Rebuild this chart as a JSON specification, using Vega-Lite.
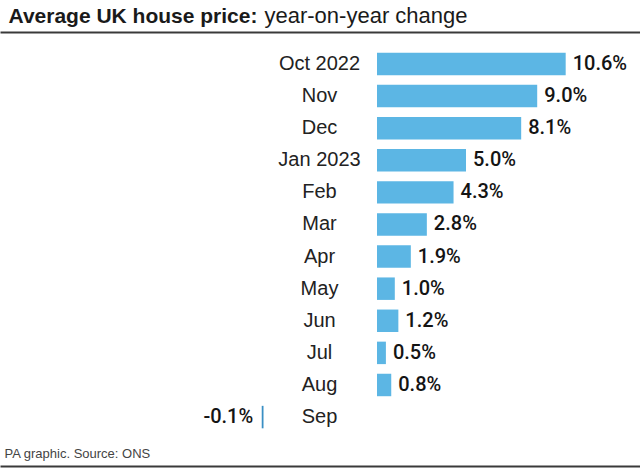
{
  "$schema": "https://vega.github.io/schema/vega-lite/v6.json",
  "width": 640,
  "height": 434,
  "autosize": {"type": "none"},
  "padding": {"top": 32, "bottom": 3, "left": 0, "right": 0},
  "background": "white",
  "config": {"view": {"stroke": null}, "font": "Liberation Sans"},
  "data": {
    "values": [
      {"month": "Oct 2022", "value": 10.6, "label": "10.6%"},
      {"month": "Nov", "value": 9.0, "label": "9.0%"},
      {"month": "Dec", "value": 8.1, "label": "8.1%"},
      {"month": "Jan 2023", "value": 5.0, "label": "5.0%"},
      {"month": "Feb", "value": 4.3, "label": "4.3%"},
      {"month": "Mar", "value": 2.8, "label": "2.8%"},
      {"month": "Apr", "value": 1.9, "label": "1.9%"},
      {"month": "May", "value": 1.0, "label": "1.0%"},
      {"month": "Jun", "value": 1.2, "label": "1.2%"},
      {"month": "Jul", "value": 0.5, "label": "0.5%"},
      {"month": "Aug", "value": 0.8, "label": "0.8%"},
      {"month": "Sep", "value": -0.1, "label": "-0.1%"}
    ]
  },
  "resolve": {"axis": {"x": "independent", "y": "independent"}},
  "layer": [
    {
      "transform": [{"filter": "datum.value >= 0"}],
      "mark": {"type": "bar", "color": "#5cb6e4"},
      "encoding": {
        "y": {
          "field": "month",
          "type": "nominal",
          "scale": {
            "domain": ["Oct 2022", "Nov", "Dec", "Jan 2023", "Feb", "Mar", "Apr", "May", "Jun", "Jul", "Aug", "Sep"],
            "paddingInner": 0.3,
            "paddingOuter": 0.91,
            "align": 0.355
          },
          "axis": {
            "title": "Average UK house price:",
            "labels": false,
            "ticks": false,
            "domain": false,
            "grid": false,
            "titleAngle": 0,
            "titleX": 8,
            "titleY": -10,
            "titleAlign": "left",
            "titleBaseline": "alphabetic",
            "titleFontSize": 21,
            "titleFontWeight": "bold",
            "titleColor": "#1a1a1a",
            "titleFont": "Liberation Sans",
            "titleLimit": 1000
          }
        },
        "x": {
          "field": "value",
          "type": "quantitative",
          "scale": {"domain": [-21.18, 14.775], "nice": false},
          "axis": {
            "orient": "top",
            "title": "year-on-year change",
            "labels": false,
            "ticks": false,
            "grid": false,
            "domain": true,
            "domainColor": "#3a3a3a",
            "domainWidth": 2,
            "titleX": 264,
            "titleY": -10,
            "titleAlign": "left",
            "titleBaseline": "alphabetic",
            "titleFontSize": 22,
            "titleFontWeight": "normal",
            "titleColor": "#1a1a1a",
            "titleFont": "Liberation Sans",
            "titleLimit": 1000
          }
        }
      }
    },
    {
      "transform": [{"filter": "datum.value < 0"}],
      "mark": {"type": "bar", "color": "#3a8fc4", "xOffset": -113.5},
      "encoding": {
        "y": {"field": "month", "type": "nominal", "axis": null},
        "x": {"field": "value", "type": "quantitative", "axis": null}
      }
    },
    {
      "mark": {"type": "text", "align": "center", "baseline": "middle", "dx": -57.5, "fontSize": 20, "color": "#222222", "font": "Liberation Sans"},
      "encoding": {
        "y": {"field": "month", "type": "nominal", "axis": null},
        "x": {"datum": 0, "type": "quantitative", "axis": null},
        "text": {"field": "month"}
      }
    },
    {
      "transform": [{"filter": "datum.value >= 0"}],
      "mark": {"type": "text", "align": "left", "baseline": "middle", "dx": 7, "fontSize": 20, "fontWeight": 500, "color": "#141414", "font": "Roboto"},
      "encoding": {
        "y": {"field": "month", "type": "nominal", "axis": null},
        "x": {
          "field": "value",
          "type": "quantitative",
          "axis": {
            "orient": "bottom",
            "title": "PA graphic. Source: ONS",
            "labels": false,
            "ticks": false,
            "grid": false,
            "domain": true,
            "domainColor": "#3a3a3a",
            "domainWidth": 2,
            "titleX": 4,
            "titleY": -9,
            "titleAlign": "left",
            "titleBaseline": "alphabetic",
            "titleFontSize": 13,
            "titleFontWeight": "normal",
            "titleColor": "#444444",
            "titleFont": "Liberation Sans",
            "titleLimit": 1000
          }
        },
        "text": {"field": "label"}
      }
    },
    {
      "transform": [{"filter": "datum.value < 0"}],
      "mark": {"type": "text", "align": "right", "baseline": "middle", "dx": -122, "fontSize": 20, "fontWeight": 500, "color": "#141414", "font": "Roboto"},
      "encoding": {
        "y": {"field": "month", "type": "nominal", "axis": null},
        "x": {"field": "value", "type": "quantitative", "axis": null},
        "text": {"field": "label"}
      }
    }
  ]
}
